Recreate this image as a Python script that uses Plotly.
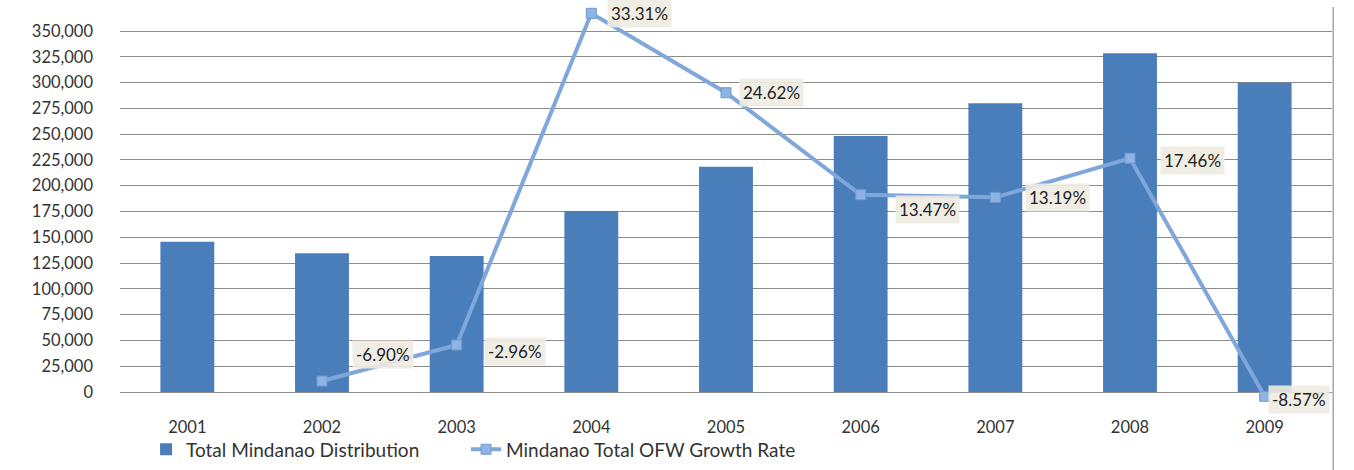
import plotly.graph_objects as go

years = ["2001", "2002", "2003", "2004", "2005", "2006", "2007", "2008", "2009"]
distribution = [145700, 134500, 131900, 175500, 218400, 248200, 279900, 328400, 299900]
growth_rate = [None, -6.90, -2.96, 33.31, 24.62, 13.47, 13.19, 17.46, -8.57]
y_ticks = list(range(0, 350001, 25000))

# label offsets in pixels (dx, dy) relative to marker
label_offsets = [None, (33, -27), (30, 7), (19, 0), (16, 0), (37, 15), (33, 0), (33, 2), (6, 3)]

FONT = "Lato"
TXT = "#333333"

fig = go.Figure()
fig.add_trace(go.Bar(
    x=years, y=distribution, name="Total Mindanao Distribution",
    marker=dict(color="#4a7ebb", line=dict(width=0)), width=0.4, legend="legend",
))
fig.add_trace(go.Scatter(
    x=years, y=growth_rate, name="Mindanao Total OFW Growth Rate", yaxis="y2",
    mode="lines+markers", cliponaxis=False, legend="legend2",
    line=dict(color="#7fa7da", width=4),
    marker=dict(symbol="square", size=10, color="#8fb4e3", line=dict(color="#6f9bd0", width=1)),
))

for i, (g, off) in enumerate(zip(growth_rate, label_offsets)):
    if g is None:
        continue
    fig.add_annotation(
        x=i, y=g, xref="x", yref="y2", text=f"{g:.2f}%", showarrow=False,
        xanchor="left", yanchor="middle", xshift=off[0] - 3, yshift=-off[1],
        font=dict(family=FONT, size=17, color="#222222"),
        bgcolor="rgba(238,235,226,0.9)", borderpad=3,
    )

# right border line
fig.add_shape(type="line", xref="paper", yref="paper", x0=1.001, x1=1.001, y0=1.0, y1=-0.175,
              line=dict(color="#a8a8a8", width=1.5))

legend_style = dict(orientation="h", y=-0.12, xanchor="left", yanchor="middle",
                    font=dict(family=FONT, size=19, color=TXT), bgcolor="rgba(0,0,0,0)",
                    itemwidth=30)

fig.update_layout(
    width=1354, height=470,
    margin=dict(l=120, r=22, t=7, b=68, autoexpand=False),
    paper_bgcolor="white", plot_bgcolor="white",
    showlegend=True,
    legend=dict(x=0.0215, **legend_style),
    legend2=dict(x=0.2855, **legend_style),
    xaxis=dict(type="category", range=[-0.5, 8.5], autorange=False, showgrid=False,
               showline=False, zeroline=False, ticks="",
               tickfont=dict(family=FONT, size=16.5, color=TXT), ticklabelstandoff=13),
    yaxis=dict(range=[-9695, 373269], tickvals=y_ticks, tickformat=",", showgrid=True,
               gridcolor="#8c8c8c", gridwidth=1, zeroline=True, zerolinecolor="#8c8c8c",
               zerolinewidth=1, showline=False, ticks="",
               tickfont=dict(family=FONT, size=16.5, color=TXT), ticklabelstandoff=26),
    yaxis2=dict(range=[-9.194, 34.0], overlaying="y", side="right", visible=False),
)

fig.write_html("out.html", config={"displayModeBar": False},
               post_script="document.body.style.margin='0';")
